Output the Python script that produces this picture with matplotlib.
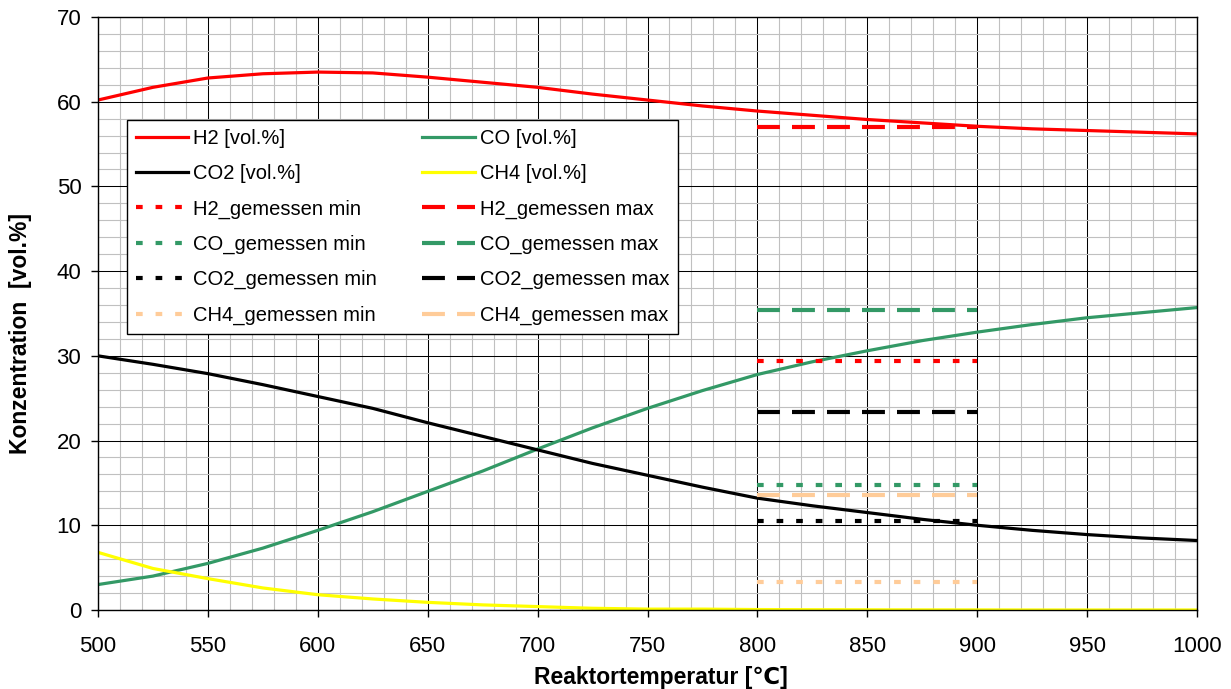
import matplotlib.pyplot as plt
from matplotlib.ticker import MultipleLocator

plt.rcParams['font.family'] = ['Liberation Sans', 'DejaVu Sans']

# Simulation (Gleichgewicht)
temp = [500, 525, 550, 575, 600, 625, 650, 675, 700, 725, 750, 775, 800,
        825, 850, 875, 900, 925, 950, 975, 1000]
h2 = [60.2, 61.7, 62.8, 63.3, 63.5, 63.4, 62.9, 62.3, 61.7, 60.9, 60.2, 59.5, 58.9,
      58.4, 57.9, 57.5, 57.1, 56.8, 56.6, 56.4, 56.2]
co = [3.0, 4.0, 5.5, 7.3, 9.4, 11.6, 14.0, 16.4, 19.0, 21.5, 23.8, 25.9, 27.8,
      29.3, 30.6, 31.8, 32.8, 33.7, 34.5, 35.1, 35.7]
co2 = [30.0, 29.0, 27.9, 26.6, 25.2, 23.8, 22.1, 20.5, 18.9, 17.3, 15.9, 14.5, 13.2,
       12.3, 11.5, 10.7, 10.0, 9.4, 8.9, 8.5, 8.2]
ch4 = [6.8, 4.9, 3.7, 2.6, 1.8, 1.3, 0.9, 0.6, 0.4, 0.2, 0.1, 0.1, 0.05,
       0.03, 0.02, 0.01, 0.01, 0.0, 0.0, 0.0, 0.0]

# gemessene Bereiche (800-900 °C)
mess_temp = [800, 900]
h2_min, h2_max = 29.4, 57.0
co_min, co_max = 14.8, 35.4
co2_min, co2_max = 10.5, 23.4
ch4_min, ch4_max = 3.3, 13.6

RED = '#ff0000'
GREEN = '#339966'
BLACK = '#000000'
YELLOW = '#ffff00'
PEACH = '#ffcc99'

fig = plt.figure(figsize=(12.31, 6.89), dpi=100)
ax = fig.add_axes([0.0796, 0.1147, 0.8928, 0.8606])

dotted = (0, (1.6, 3.1))
dashed = (0, (5.5, 2.9))
lw_c = 2.3
lw_m = 3.0

l_h2, = ax.plot(temp, h2, color=RED, lw=lw_c, label='H2 [vol.%]')
l_co, = ax.plot(temp, co, color=GREEN, lw=lw_c, label='CO [vol.%]')
l_co2, = ax.plot(temp, co2, color=BLACK, lw=lw_c, label='CO2 [vol.%]')
l_ch4, = ax.plot(temp, ch4, color=YELLOW, lw=lw_c, label='CH4 [vol.%]')

mess = []
for name, col, lo, hi in [('H2', RED, h2_min, h2_max),
                          ('CO', GREEN, co_min, co_max),
                          ('CO2', BLACK, co2_min, co2_max),
                          ('CH4', PEACH, ch4_min, ch4_max)]:
    a, = ax.plot(mess_temp, [lo, lo], color=col, lw=lw_m, ls=dotted,
                 label=name + '_gemessen min')
    b, = ax.plot(mess_temp, [hi, hi], color=col, lw=lw_m, ls=dashed,
                 label=name + '_gemessen max')
    mess.append((a, b))

ax.set_xlim(500, 1000)
ax.set_ylim(0, 70)
ax.xaxis.set_major_locator(MultipleLocator(50))
ax.xaxis.set_minor_locator(MultipleLocator(10))
ax.yaxis.set_major_locator(MultipleLocator(10))
ax.yaxis.set_minor_locator(MultipleLocator(2))
ax.grid(which='minor', color='#c0c0c0', lw=0.8)
ax.grid(which='major', color='#000000', lw=0.75)
ax.set_axisbelow(True)
ax.tick_params(which='minor', length=0)
ax.tick_params(which='major', direction='out', length=5, width=1, labelsize=16)
ax.tick_params(axis='x', pad=14)
ax.tick_params(axis='y', pad=7)
for s in ax.spines.values():
    s.set_color('black')
    s.set_linewidth(1.0)

ax.set_xlabel('Reaktortemperatur [℃]', fontsize=16.5, fontweight='bold')
ax.set_ylabel('Konzentration  [vol.%]', fontsize=16.5, fontweight='bold')
ax.xaxis.set_label_coords(0.512, -0.094)
ax.yaxis.set_label_coords(-0.060, 0.467)

handles = [l_h2, l_co2, mess[0][0], mess[1][0], mess[2][0], mess[3][0],
           l_co, l_ch4, mess[0][1], mess[1][1], mess[2][1], mess[3][1]]
leg = ax.legend(handles=handles, ncol=2, loc='upper left',
                bbox_to_anchor=(0.026, 0.467, 0.502, 0.359), mode='expand',
                fontsize=14.5, frameon=True, fancybox=False, framealpha=1,
                edgecolor='black', handlelength=2.6, handletextpad=0.25,
                labelspacing=0.8, borderaxespad=0, columnspacing=1.0,
                borderpad=0.45)
leg.get_frame().set_linewidth(1.0)

fig.savefig('out.png', dpi=100)
